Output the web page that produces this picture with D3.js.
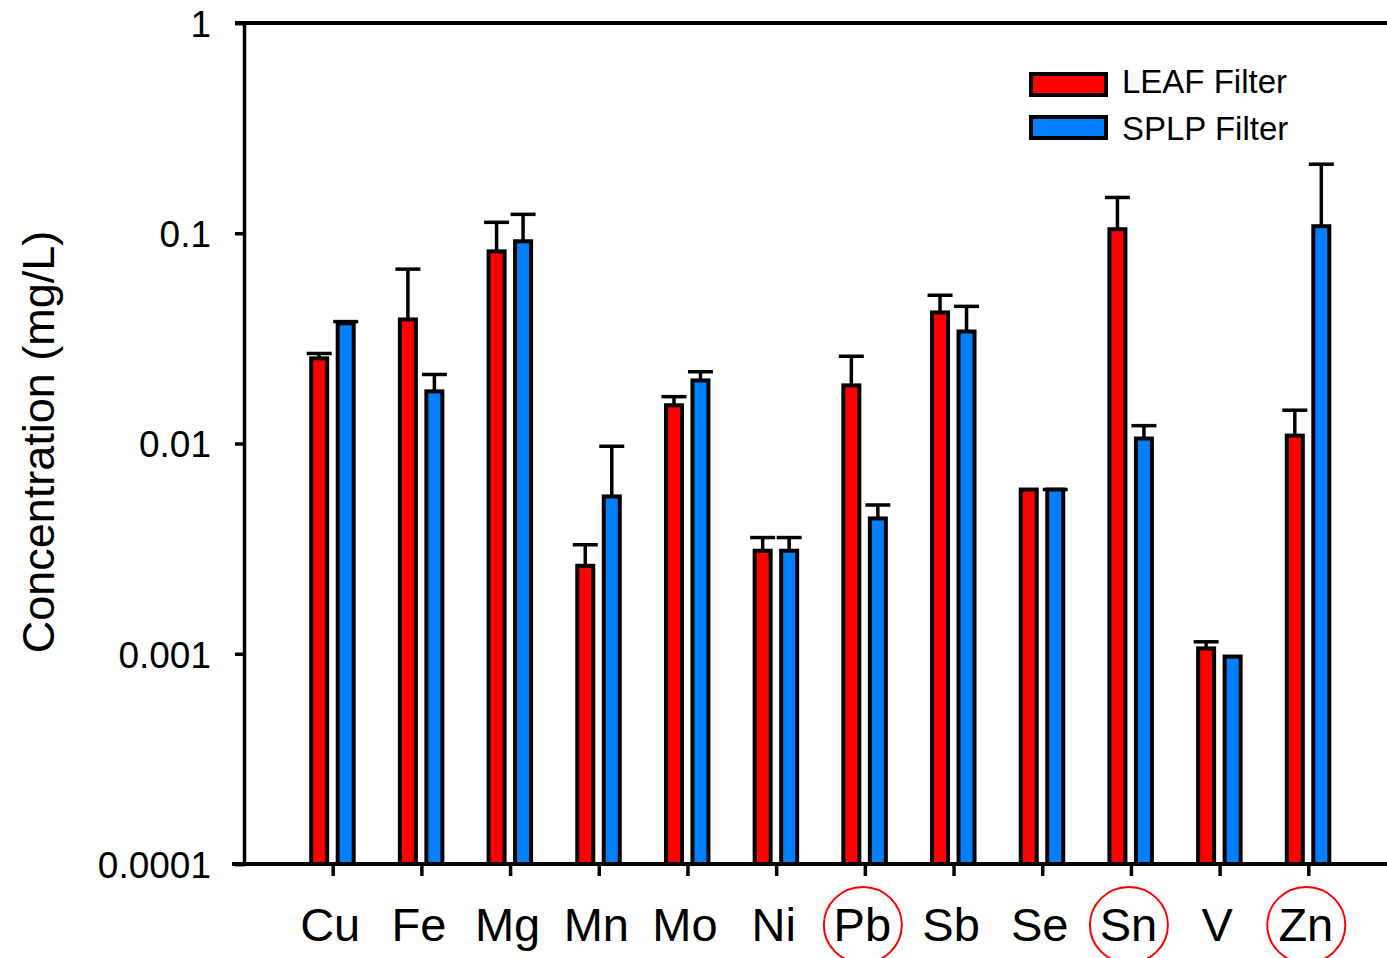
<!DOCTYPE html>
<html>
<head>
<meta charset="utf-8">
<script src="https://cdn.jsdelivr.net/npm/d3@7"></script>
<style>
  body { margin: 0; background: #fff; }
  text { font-family: "Liberation Sans", Arial, sans-serif; fill: #000; }
</style>
</head>
<body>
<div id="chart"></div>
<script>
// data
var categories = ["Cu", "Fe", "Mg", "Mn", "Mo", "Ni", "Pb", "Sb", "Se", "Sn", "V", "Zn"];
var leaf = [0.0254, 0.0389, 0.082, 0.00262, 0.0152, 0.00309, 0.0189, 0.042, 0.00604, 0.1045, 0.00106, 0.0109];
var leafErr = [0.0014, 0.0286, 0.0307, 0.00068, 0.0015, 0.00048, 0.0071, 0.0087, null, 0.0435, 0.00008, 0.0035];
var splp = [0.0373, 0.0177, 0.0916, 0.0056, 0.01995, 0.00309, 0.0044, 0.0341, 0.00604, 0.01056, 0.00097, 0.108];
var splpErr = [0.0007, 0.0036, 0.0314, 0.0041, 0.002, 0.00048, 0.0007, 0.0108, 0, 0.0016, null, 0.105];
var yTicks = [0.0001, 0.001, 0.01, 0.1, 1];
var yTickLabels = ["0.0001", "0.001", "0.01", "0.1", "1"];
var circled = ["Pb", "Sn", "Zn"];
var seriesNames = ["LEAF Filter", "SPLP Filter"];
var seriesColors = ["#ff0000", "#0080ff"];

var width = 1387,
    height = 958;
var plotLeft = 244, plotRight = 1397, plotTop = 23, plotBottom = 864;

var svg = d3.select("#chart")
    .append("svg")
    .attr("width", width)
    .attr("height", height);

var x = d3.scalePoint()
    .domain(categories)
    .range([plotLeft, plotRight])
    .padding(1);

var y = d3.scaleLog()
    .domain([0.0001, 1])
    .range([plotBottom, plotTop]);

var barW = 16,
    offset = 13;

var series = [
    { name: seriesNames[0], color: seriesColors[0], values: leaf, errs: leafErr, dx: -offset - 0.5 },
    { name: seriesNames[1], color: seriesColors[1], values: splp, errs: splpErr, dx: offset }
];

// error bars first, the bars cover the lower half
series.forEach(function(s) {
    var g = svg.append("g");
    categories.forEach(function(c, i) {
        if (s.errs[i] === null) return;
        var cx = x(c) + s.dx;
        var yTop = y(s.values[i] + s.errs[i]);
        g.append("line")
            .attr("x1", cx).attr("x2", cx)
            .attr("y1", y(s.values[i])).attr("y2", yTop)
            .attr("stroke", "#000").attr("stroke-width", 3.5);
        g.append("line")
            .attr("x1", cx - 12.5).attr("x2", cx + 12.5)
            .attr("y1", yTop).attr("y2", yTop)
            .attr("stroke", "#000").attr("stroke-width", 3.5);
    });
});

series.forEach(function(s) {
    svg.append("g")
        .selectAll("rect")
        .data(s.values)
        .enter()
        .append("rect")
        .attr("x", function(d, i) { return x(categories[i]) + s.dx - barW / 2; })
        .attr("y", function(d) { return y(d); })
        .attr("width", barW)
        .attr("height", function(d) { return y(0.0001) - y(d); })
        .attr("fill", s.color)
        .attr("stroke", "#000")
        .attr("stroke-width", 4);
});

// axes
var yAxis = d3.axisLeft(y)
    .tickValues(yTicks)
    .tickFormat(function(d, i) { return yTickLabels[i]; })
    .tickSize(9)
    .tickPadding(24);

var gy = svg.append("g")
    .attr("transform", "translate(" + plotLeft + ",0)")
    .call(yAxis);
gy.select(".domain").attr("stroke-width", 3.5);
gy.selectAll(".tick line").attr("stroke-width", 3.5);
gy.selectAll(".tick text")
    .style("font-size", "37px")
    .attr("dy", "0.36em");

// top frame line
svg.append("line")
    .attr("x1", plotLeft - 9).attr("x2", width)
    .attr("y1", plotTop).attr("y2", plotTop)
    .attr("stroke", "#000").attr("stroke-width", 4);

var xAxis = d3.axisBottom(x)
    .tickSize(12)
    .tickPadding(32)
    .tickSizeOuter(0);

var gx = svg.append("g")
    .attr("transform", "translate(0," + plotBottom + ")")
    .call(xAxis);
gx.select(".domain")
    .attr("d", "M" + (plotLeft - 12) + ",0H" + width)
    .attr("stroke-width", 4);
gx.selectAll(".tick line").attr("stroke-width", 3.5);
gx.selectAll(".tick text")
    .style("font-size", "47px")
    .attr("dx", "-3");

// red circles round some of the labels
svg.append("g")
    .selectAll("ellipse")
    .data(circled)
    .enter()
    .append("ellipse")
    .attr("cx", function(d) { return x(d) - 2; })
    .attr("cy", 925)
    .attr("rx", 39)
    .attr("ry", 38)
    .attr("fill", "none")
    .attr("stroke", "#ff0000")
    .attr("stroke-width", 2);

// y title
svg.append("text")
    .attr("transform", "translate(54,442) rotate(-90)")
    .attr("text-anchor", "middle")
    .style("font-size", "45px")
    .text("Concentration (mg/L)");

// legend
var legend = svg.append("g");
series.forEach(function(s, i) {
    legend.append("rect")
        .attr("x", 1031).attr("y", 74 + i * 43)
        .attr("width", 75).attr("height", 21)
        .attr("fill", s.color)
        .attr("stroke", "#000")
        .attr("stroke-width", 4);
    legend.append("text")
        .attr("x", 1122).attr("y", 93 + i * 47)
        .style("font-size", "33px")
        .text(s.name);
});
</script>
</body>
</html>
